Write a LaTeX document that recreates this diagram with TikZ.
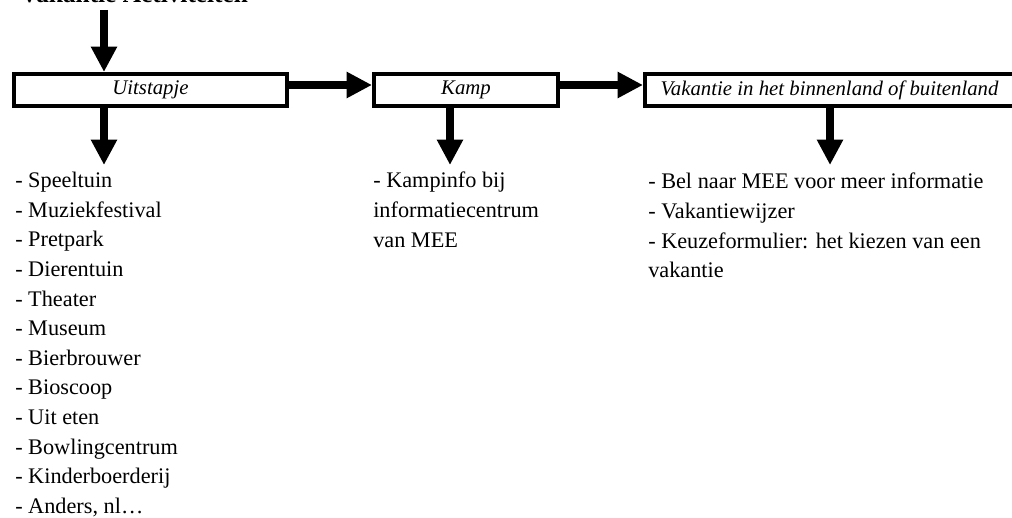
\documentclass[tikz,border=0pt]{standalone}
\usepackage{fontspec}
\setmainfont{Liberation Serif}
\usetikzlibrary{arrows.meta}
\tikzset{
  bigarrow/.style={line width=6pt, -{Triangle[length=19pt,width=18.5pt]}},
  boxnode/.style={draw, line width=3pt, inner sep=0pt, minimum height=24pt, font=\fontsize{15.6}{18}\selectfont\itshape},
  listnode/.style={anchor=north west, align=left, inner sep=0pt, font=\fontsize{16.7}{22.2}\selectfont},
}
\begin{document}
\begin{tikzpicture}[x=0.75pt,y=-0.75pt]
\useasboundingbox (0,0) rectangle (1012,517);
\node[anchor=base west, inner sep=0pt, font=\fontsize{19}{21}\selectfont\bfseries] (title) at (20,3) {Vakantie Activiteiten};
\node[boxnode, minimum width=204.75pt] (u) at (150.5,90) {Uitstapje};
\node[boxnode, minimum width=138pt] (k) at (466,90) {Kamp};
\node[boxnode, minimum width=276.75pt] (v) at (829.5,90) {Vakantie in het binnenland of buitenland};
\coordinate (top) at (104,10);
\coordinate (h) at (0,85);
\coordinate (ud) at (104,165);
\coordinate (kd) at (450,165);
\coordinate (vd) at (830,165);
\draw[bigarrow] (top) -- (top |- u.north);
\draw[bigarrow] (u.east |- h) -- (k.west |- h);
\draw[bigarrow] (k.east |- h) -- (v.west |- h);
\draw[bigarrow] (ud |- u.south) -- (ud);
\draw[bigarrow] (kd |- k.south) -- (kd);
\draw[bigarrow] (vd |- v.south) -- (vd);
\node[listnode] (ul) at (15,172) {- Speeltuin\\- Muziekfestival\\- Pretpark\\- Dierentuin\\- Theater\\- Museum\\- Bierbrouwer\\- Bioscoop\\- Uit eten\\- Bowlingcentrum\\- Kinderboerderij\\- Anders, nl…};
\node[listnode] (kl) at (373,172) {- Kampinfo bij\\informatiecentrum\\van MEE};
\node[listnode] (vl) at (648,173) {- Bel naar MEE voor meer informatie\\- Vakantiewijzer\\- Keuzeformulier: het kiezen van een\\vakantie};
\end{tikzpicture}
\end{document}
